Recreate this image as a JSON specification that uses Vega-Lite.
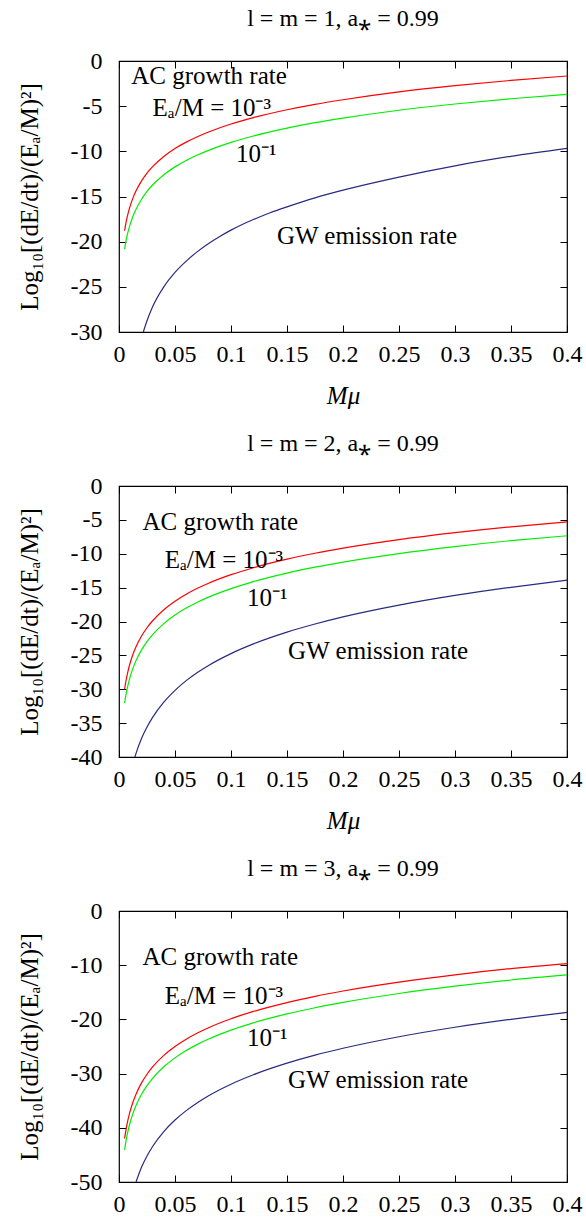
{
  "$schema": "https://vega.github.io/schema/vega-lite/v6.json",
  "background": "white",
  "padding": {"left": 16, "top": 6, "right": 5, "bottom": 0},
  "config": {
    "font": "Liberation Serif",
    "view": {"stroke": "black", "strokeWidth": 1.2},
    "concat": {"spacing": 22},
    "axis": {
      "domain": false, "grid": false, "labelFlush": false, "labelOverlap": false,
      "ticks": true, "tickColor": "black", "tickWidth": 1, "tickSize": -7,
      "labelFont": "Liberation Serif", "labelFontSize": 24, "labelColor": "black",
      "titleFont": "Liberation Serif", "titleFontSize": 25, "titleFontWeight": "normal", "titleColor": "black"
    },
    "title": {"font": "Liberation Serif", "fontSize": 24, "fontWeight": "normal", "color": "black", "offset": 18}
  },
  "datasets": {
    "curves": [
      {"p":1,"s":"r","mu":0.005,"v":-18.79},{"p":1,"s":"r","mu":0.006,"v":-18.05},{"p":1,"s":"r","mu":0.007,"v":-17.44},{"p":1,"s":"r","mu":0.008,"v":-16.92},{"p":1,"s":"r","mu":0.01,"v":-16.03},{"p":1,"s":"r","mu":0.0125,"v":-15.15},{"p":1,"s":"r","mu":0.015,"v":-14.43},{"p":1,"s":"r","mu":0.02,"v":-13.3},{"p":1,"s":"r","mu":0.025,"v":-12.41},{"p":1,"s":"r","mu":0.03,"v":-11.7},{"p":1,"s":"r","mu":0.04,"v":-10.57},{"p":1,"s":"r","mu":0.05,"v":-9.69},{"p":1,"s":"r","mu":0.06,"v":-8.98},{"p":1,"s":"r","mu":0.07,"v":-8.38},{"p":1,"s":"r","mu":0.08,"v":-7.86},{"p":1,"s":"r","mu":0.1,"v":-6.98},{"p":1,"s":"r","mu":0.12,"v":-6.27},{"p":1,"s":"r","mu":0.15,"v":-5.4},{"p":1,"s":"r","mu":0.175,"v":-4.8},{"p":1,"s":"r","mu":0.2,"v":-4.29},{"p":1,"s":"r","mu":0.25,"v":-3.42},{"p":1,"s":"r","mu":0.3,"v":-2.73},{"p":1,"s":"r","mu":0.35,"v":-2.15},{"p":1,"s":"r","mu":0.4,"v":-1.66},
      {"p":1,"s":"g","mu":0.005,"v":-20.82},{"p":1,"s":"g","mu":0.006,"v":-20.08},{"p":1,"s":"g","mu":0.007,"v":-19.47},{"p":1,"s":"g","mu":0.008,"v":-18.95},{"p":1,"s":"g","mu":0.01,"v":-18.06},{"p":1,"s":"g","mu":0.0125,"v":-17.18},{"p":1,"s":"g","mu":0.015,"v":-16.46},{"p":1,"s":"g","mu":0.02,"v":-15.33},{"p":1,"s":"g","mu":0.025,"v":-14.44},{"p":1,"s":"g","mu":0.03,"v":-13.73},{"p":1,"s":"g","mu":0.04,"v":-12.6},{"p":1,"s":"g","mu":0.05,"v":-11.72},{"p":1,"s":"g","mu":0.06,"v":-11.01},{"p":1,"s":"g","mu":0.07,"v":-10.41},{"p":1,"s":"g","mu":0.08,"v":-9.89},{"p":1,"s":"g","mu":0.1,"v":-9.01},{"p":1,"s":"g","mu":0.12,"v":-8.3},{"p":1,"s":"g","mu":0.15,"v":-7.43},{"p":1,"s":"g","mu":0.175,"v":-6.83},{"p":1,"s":"g","mu":0.2,"v":-6.32},{"p":1,"s":"g","mu":0.25,"v":-5.45},{"p":1,"s":"g","mu":0.3,"v":-4.76},{"p":1,"s":"g","mu":0.35,"v":-4.18},{"p":1,"s":"g","mu":0.4,"v":-3.69},
      {"p":1,"s":"b","mu":0.0217,"v":-30.0},{"p":1,"s":"b","mu":0.025,"v":-28.75},{"p":1,"s":"b","mu":0.03,"v":-27.2},{"p":1,"s":"b","mu":0.04,"v":-25.0},{"p":1,"s":"b","mu":0.05,"v":-23.4},{"p":1,"s":"b","mu":0.06,"v":-22.15},{"p":1,"s":"b","mu":0.07,"v":-21.1},{"p":1,"s":"b","mu":0.08,"v":-20.2},{"p":1,"s":"b","mu":0.09,"v":-19.42},{"p":1,"s":"b","mu":0.1,"v":-18.72},{"p":1,"s":"b","mu":0.11,"v":-18.1},{"p":1,"s":"b","mu":0.12,"v":-17.55},{"p":1,"s":"b","mu":0.135,"v":-16.8},{"p":1,"s":"b","mu":0.15,"v":-16.15},{"p":1,"s":"b","mu":0.175,"v":-15.15},{"p":1,"s":"b","mu":0.2,"v":-14.3},{"p":1,"s":"b","mu":0.25,"v":-12.85},{"p":1,"s":"b","mu":0.3,"v":-11.6},{"p":1,"s":"b","mu":0.35,"v":-10.55},{"p":1,"s":"b","mu":0.4,"v":-9.67},
      {"p":2,"s":"r","mu":0.005,"v":-30.0},{"p":2,"s":"r","mu":0.006,"v":-28.97},{"p":2,"s":"r","mu":0.007,"v":-28.1},{"p":2,"s":"r","mu":0.008,"v":-27.35},{"p":2,"s":"r","mu":0.01,"v":-26.09},{"p":2,"s":"r","mu":0.0125,"v":-24.83},{"p":2,"s":"r","mu":0.015,"v":-23.8},{"p":2,"s":"r","mu":0.02,"v":-22.18},{"p":2,"s":"r","mu":0.025,"v":-20.92},{"p":2,"s":"r","mu":0.03,"v":-19.89},{"p":2,"s":"r","mu":0.04,"v":-18.26},{"p":2,"s":"r","mu":0.05,"v":-17.0},{"p":2,"s":"r","mu":0.06,"v":-15.97},{"p":2,"s":"r","mu":0.07,"v":-15.1},{"p":2,"s":"r","mu":0.08,"v":-14.35},{"p":2,"s":"r","mu":0.1,"v":-13.09},{"p":2,"s":"r","mu":0.12,"v":-12.06},{"p":2,"s":"r","mu":0.15,"v":-10.8},{"p":2,"s":"r","mu":0.175,"v":-9.93},{"p":2,"s":"r","mu":0.2,"v":-9.18},{"p":2,"s":"r","mu":0.25,"v":-7.92},{"p":2,"s":"r","mu":0.3,"v":-6.89},{"p":2,"s":"r","mu":0.35,"v":-6.02},{"p":2,"s":"r","mu":0.4,"v":-5.3},
      {"p":2,"s":"g","mu":0.005,"v":-32.05},{"p":2,"s":"g","mu":0.006,"v":-31.02},{"p":2,"s":"g","mu":0.007,"v":-30.15},{"p":2,"s":"g","mu":0.008,"v":-29.4},{"p":2,"s":"g","mu":0.01,"v":-28.14},{"p":2,"s":"g","mu":0.0125,"v":-26.88},{"p":2,"s":"g","mu":0.015,"v":-25.85},{"p":2,"s":"g","mu":0.02,"v":-24.23},{"p":2,"s":"g","mu":0.025,"v":-22.97},{"p":2,"s":"g","mu":0.03,"v":-21.94},{"p":2,"s":"g","mu":0.04,"v":-20.31},{"p":2,"s":"g","mu":0.05,"v":-19.05},{"p":2,"s":"g","mu":0.06,"v":-18.02},{"p":2,"s":"g","mu":0.07,"v":-17.15},{"p":2,"s":"g","mu":0.08,"v":-16.4},{"p":2,"s":"g","mu":0.1,"v":-15.14},{"p":2,"s":"g","mu":0.12,"v":-14.11},{"p":2,"s":"g","mu":0.15,"v":-12.85},{"p":2,"s":"g","mu":0.175,"v":-11.98},{"p":2,"s":"g","mu":0.2,"v":-11.23},{"p":2,"s":"g","mu":0.25,"v":-9.97},{"p":2,"s":"g","mu":0.3,"v":-8.94},{"p":2,"s":"g","mu":0.35,"v":-8.07},{"p":2,"s":"g","mu":0.4,"v":-7.35},
      {"p":2,"s":"b","mu":0.0142,"v":-40.0},{"p":2,"s":"b","mu":0.015,"v":-39.57},{"p":2,"s":"b","mu":0.02,"v":-37.32},{"p":2,"s":"b","mu":0.025,"v":-35.58},{"p":2,"s":"b","mu":0.03,"v":-34.15},{"p":2,"s":"b","mu":0.04,"v":-31.9},{"p":2,"s":"b","mu":0.05,"v":-30.16},{"p":2,"s":"b","mu":0.06,"v":-28.73},{"p":2,"s":"b","mu":0.07,"v":-27.53},{"p":2,"s":"b","mu":0.08,"v":-26.48},{"p":2,"s":"b","mu":0.1,"v":-24.74},{"p":2,"s":"b","mu":0.12,"v":-23.31},{"p":2,"s":"b","mu":0.15,"v":-21.57},{"p":2,"s":"b","mu":0.175,"v":-20.37},{"p":2,"s":"b","mu":0.2,"v":-19.32},{"p":2,"s":"b","mu":0.25,"v":-17.58},{"p":2,"s":"b","mu":0.3,"v":-16.15},{"p":2,"s":"b","mu":0.35,"v":-14.95},{"p":2,"s":"b","mu":0.4,"v":-13.9},
      {"p":3,"s":"r","mu":0.005,"v":-42.0},{"p":3,"s":"r","mu":0.006,"v":-40.65},{"p":3,"s":"r","mu":0.007,"v":-39.51},{"p":3,"s":"r","mu":0.008,"v":-38.53},{"p":3,"s":"r","mu":0.01,"v":-36.88},{"p":3,"s":"r","mu":0.0125,"v":-35.23},{"p":3,"s":"r","mu":0.015,"v":-33.89},{"p":3,"s":"r","mu":0.02,"v":-31.76},{"p":3,"s":"r","mu":0.025,"v":-30.12},{"p":3,"s":"r","mu":0.03,"v":-28.77},{"p":3,"s":"r","mu":0.04,"v":-26.64},{"p":3,"s":"r","mu":0.05,"v":-25.0},{"p":3,"s":"r","mu":0.06,"v":-23.65},{"p":3,"s":"r","mu":0.07,"v":-22.51},{"p":3,"s":"r","mu":0.08,"v":-21.53},{"p":3,"s":"r","mu":0.1,"v":-19.88},{"p":3,"s":"r","mu":0.12,"v":-18.53},{"p":3,"s":"r","mu":0.15,"v":-16.89},{"p":3,"s":"r","mu":0.175,"v":-15.75},{"p":3,"s":"r","mu":0.2,"v":-14.76},{"p":3,"s":"r","mu":0.25,"v":-13.12},{"p":3,"s":"r","mu":0.3,"v":-11.77},{"p":3,"s":"r","mu":0.35,"v":-10.63},{"p":3,"s":"r","mu":0.4,"v":-9.7},
      {"p":3,"s":"g","mu":0.005,"v":-44.1},{"p":3,"s":"g","mu":0.006,"v":-42.75},{"p":3,"s":"g","mu":0.007,"v":-41.61},{"p":3,"s":"g","mu":0.008,"v":-40.63},{"p":3,"s":"g","mu":0.01,"v":-38.98},{"p":3,"s":"g","mu":0.0125,"v":-37.33},{"p":3,"s":"g","mu":0.015,"v":-35.99},{"p":3,"s":"g","mu":0.02,"v":-33.86},{"p":3,"s":"g","mu":0.025,"v":-32.22},{"p":3,"s":"g","mu":0.03,"v":-30.87},{"p":3,"s":"g","mu":0.04,"v":-28.74},{"p":3,"s":"g","mu":0.05,"v":-27.1},{"p":3,"s":"g","mu":0.06,"v":-25.75},{"p":3,"s":"g","mu":0.07,"v":-24.61},{"p":3,"s":"g","mu":0.08,"v":-23.63},{"p":3,"s":"g","mu":0.1,"v":-21.98},{"p":3,"s":"g","mu":0.12,"v":-20.63},{"p":3,"s":"g","mu":0.15,"v":-18.99},{"p":3,"s":"g","mu":0.175,"v":-17.85},{"p":3,"s":"g","mu":0.2,"v":-16.86},{"p":3,"s":"g","mu":0.25,"v":-15.22},{"p":3,"s":"g","mu":0.3,"v":-13.87},{"p":3,"s":"g","mu":0.35,"v":-12.73},{"p":3,"s":"g","mu":0.4,"v":-11.8},
      {"p":3,"s":"b","mu":0.0152,"v":-50.0},{"p":3,"s":"b","mu":0.02,"v":-47.33},{"p":3,"s":"b","mu":0.025,"v":-45.2},{"p":3,"s":"b","mu":0.03,"v":-43.45},{"p":3,"s":"b","mu":0.04,"v":-40.7},{"p":3,"s":"b","mu":0.05,"v":-38.57},{"p":3,"s":"b","mu":0.06,"v":-36.83},{"p":3,"s":"b","mu":0.07,"v":-35.36},{"p":3,"s":"b","mu":0.08,"v":-34.08},{"p":3,"s":"b","mu":0.1,"v":-31.95},{"p":3,"s":"b","mu":0.12,"v":-30.21},{"p":3,"s":"b","mu":0.15,"v":-28.08},{"p":3,"s":"b","mu":0.175,"v":-26.6},{"p":3,"s":"b","mu":0.2,"v":-25.33},{"p":3,"s":"b","mu":0.25,"v":-23.2},{"p":3,"s":"b","mu":0.3,"v":-21.45},{"p":3,"s":"b","mu":0.35,"v":-19.98},{"p":3,"s":"b","mu":0.4,"v":-18.7}
    ],
    "labels": [
      {"p":1,"mu":0.011,"v":-1.66,"t":"AC growth rate"},
      {"p":1,"mu":0.030,"v":-5.17,"t":"Eₐ/M = 10⁻³"},
      {"p":1,"mu":0.1045,"v":-10.3,"t":"10⁻¹"},
      {"p":1,"mu":0.141,"v":-19.4,"t":"GW emission rate"},
      {"p":2,"mu":0.021,"v":-5.25,"t":"AC growth rate"},
      {"p":2,"mu":0.0408,"v":-10.9,"t":"Eₐ/M = 10⁻³"},
      {"p":2,"mu":0.1143,"v":-16.5,"t":"10⁻¹"},
      {"p":2,"mu":0.151,"v":-24.4,"t":"GW emission rate"},
      {"p":3,"mu":0.021,"v":-8.5,"t":"AC growth rate"},
      {"p":3,"mu":0.0408,"v":-15.6,"t":"Eₐ/M = 10⁻³"},
      {"p":3,"mu":0.1143,"v":-23.5,"t":"10⁻¹"},
      {"p":3,"mu":0.151,"v":-31.2,"t":"GW emission rate"}
    ]
  },
  "vconcat": [
    {
      "title": "l = m = 1, a⁎ = 0.99",
      "width": 448, "height": 271,
      "resolve": {"axis": {"x": "independent", "y": "independent"}},
      "layer": [
        {
          "data": {"name": "curves"},
          "transform": [{"filter": "datum.p == 1"}],
          "mark": {"type": "line", "strokeWidth": 1.2, "interpolate": "monotone", "clip": true},
          "encoding": {
            "x": {"field": "mu", "type": "quantitative", "scale": {"domain": [0, 0.4], "nice": false, "zero": false},
                  "axis": {"orient": "bottom", "values": [0, 0.05, 0.1, 0.15, 0.2, 0.25, 0.3, 0.35, 0.4], "labelExpr": "datum.value", "labelPadding": 17, "title": "Mμ", "titleFontStyle": "italic", "titlePadding": 17}},
            "y": {"field": "v", "type": "quantitative", "scale": {"domain": [-30, 0], "nice": false, "zero": false},
                  "axis": {"orient": "left", "values": [0, -5, -10, -15, -20, -25, -30], "labelExpr": "datum.value", "labelPadding": 24, "title": "Log₁₀[(dE/dt)/(Eₐ/M)²]", "titlePadding": 28}},
            "color": {"field": "s", "type": "nominal", "scale": {"domain": ["r", "g", "b"], "range": ["#ff0000", "#00ee00", "#2a2a80"]}, "legend": null}
          }
        },
        {
          "data": {"name": "labels"},
          "transform": [{"filter": "datum.p == 1"}],
          "mark": {"type": "text", "align": "left", "baseline": "middle", "fontSize": 25, "font": "Liberation Serif", "color": "black"},
          "encoding": {
            "x": {"field": "mu", "type": "quantitative", "scale": {"domain": [0, 0.4], "nice": false, "zero": false},
                  "axis": {"orient": "top", "values": [0, 0.05, 0.1, 0.15, 0.2, 0.25, 0.3, 0.35, 0.4], "labels": false, "title": null}},
            "y": {"field": "v", "type": "quantitative", "scale": {"domain": [-30, 0], "nice": false, "zero": false},
                  "axis": {"orient": "right", "values": [0, -5, -10, -15, -20, -25, -30], "labels": false, "title": null}},
            "text": {"field": "t"}
          }
        }
      ]
    },
    {
      "title": "l = m = 2, a⁎ = 0.99",
      "width": 448, "height": 271,
      "resolve": {"axis": {"x": "independent", "y": "independent"}},
      "layer": [
        {
          "data": {"name": "curves"},
          "transform": [{"filter": "datum.p == 2"}],
          "mark": {"type": "line", "strokeWidth": 1.2, "interpolate": "monotone", "clip": true},
          "encoding": {
            "x": {"field": "mu", "type": "quantitative", "scale": {"domain": [0, 0.4], "nice": false, "zero": false},
                  "axis": {"orient": "bottom", "values": [0, 0.05, 0.1, 0.15, 0.2, 0.25, 0.3, 0.35, 0.4], "labelExpr": "datum.value", "labelPadding": 17, "title": "Mμ", "titleFontStyle": "italic", "titlePadding": 17}},
            "y": {"field": "v", "type": "quantitative", "scale": {"domain": [-40, 0], "nice": false, "zero": false},
                  "axis": {"orient": "left", "values": [0, -5, -10, -15, -20, -25, -30, -35, -40], "labelExpr": "datum.value", "labelPadding": 24, "title": "Log₁₀[(dE/dt)/(Eₐ/M)²]", "titlePadding": 28}},
            "color": {"field": "s", "type": "nominal", "scale": {"domain": ["r", "g", "b"], "range": ["#ff0000", "#00ee00", "#2a2a80"]}, "legend": null}
          }
        },
        {
          "data": {"name": "labels"},
          "transform": [{"filter": "datum.p == 2"}],
          "mark": {"type": "text", "align": "left", "baseline": "middle", "fontSize": 25, "font": "Liberation Serif", "color": "black"},
          "encoding": {
            "x": {"field": "mu", "type": "quantitative", "scale": {"domain": [0, 0.4], "nice": false, "zero": false},
                  "axis": {"orient": "top", "values": [0, 0.05, 0.1, 0.15, 0.2, 0.25, 0.3, 0.35, 0.4], "labels": false, "title": null}},
            "y": {"field": "v", "type": "quantitative", "scale": {"domain": [-40, 0], "nice": false, "zero": false},
                  "axis": {"orient": "right", "values": [0, -5, -10, -15, -20, -25, -30, -35, -40], "labels": false, "title": null}},
            "text": {"field": "t"}
          }
        }
      ]
    },
    {
      "title": "l = m = 3, a⁎ = 0.99",
      "width": 448, "height": 271,
      "resolve": {"axis": {"x": "independent", "y": "independent"}},
      "layer": [
        {
          "data": {"name": "curves"},
          "transform": [{"filter": "datum.p == 3"}],
          "mark": {"type": "line", "strokeWidth": 1.2, "interpolate": "monotone", "clip": true},
          "encoding": {
            "x": {"field": "mu", "type": "quantitative", "scale": {"domain": [0, 0.4], "nice": false, "zero": false},
                  "axis": {"orient": "bottom", "values": [0, 0.05, 0.1, 0.15, 0.2, 0.25, 0.3, 0.35, 0.4], "labelExpr": "datum.value", "labelPadding": 17, "title": null}},
            "y": {"field": "v", "type": "quantitative", "scale": {"domain": [-50, 0], "nice": false, "zero": false},
                  "axis": {"orient": "left", "values": [0, -10, -20, -30, -40, -50], "labelExpr": "datum.value", "labelPadding": 24, "title": "Log₁₀[(dE/dt)/(Eₐ/M)²]", "titlePadding": 28}},
            "color": {"field": "s", "type": "nominal", "scale": {"domain": ["r", "g", "b"], "range": ["#ff0000", "#00ee00", "#2a2a80"]}, "legend": null}
          }
        },
        {
          "data": {"name": "labels"},
          "transform": [{"filter": "datum.p == 3"}],
          "mark": {"type": "text", "align": "left", "baseline": "middle", "fontSize": 25, "font": "Liberation Serif", "color": "black"},
          "encoding": {
            "x": {"field": "mu", "type": "quantitative", "scale": {"domain": [0, 0.4], "nice": false, "zero": false},
                  "axis": {"orient": "top", "values": [0, 0.05, 0.1, 0.15, 0.2, 0.25, 0.3, 0.35, 0.4], "labels": false, "title": null}},
            "y": {"field": "v", "type": "quantitative", "scale": {"domain": [-50, 0], "nice": false, "zero": false},
                  "axis": {"orient": "right", "values": [0, -10, -20, -30, -40, -50], "labels": false, "title": null}},
            "text": {"field": "t"}
          }
        }
      ]
    }
  ]
}
